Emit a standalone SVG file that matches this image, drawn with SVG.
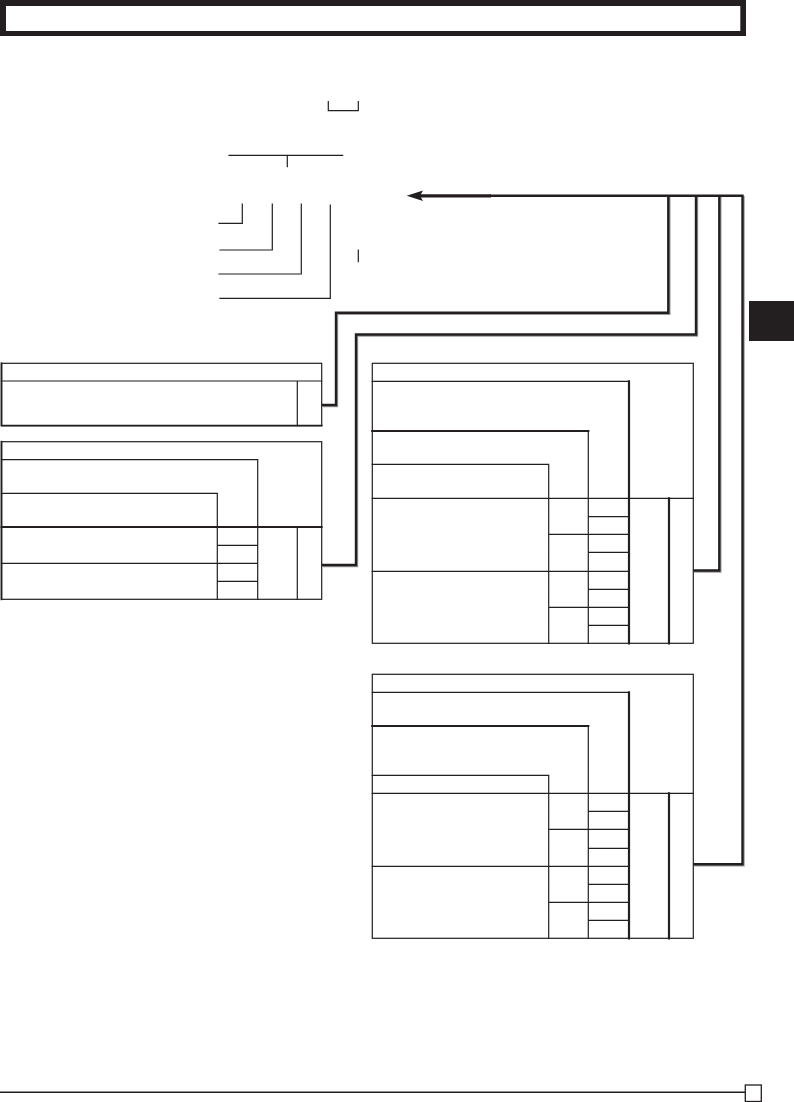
<svg xmlns="http://www.w3.org/2000/svg" width="794" height="1102" viewBox="0 0 794 1102">
<defs>
<style>
.t{fill:none;stroke:#231f20;stroke-width:1.2;stroke-linecap:square}
.k{fill:none;stroke:#231f20;stroke-width:2.2;stroke-linecap:square}
.bx{fill:#fff;stroke:#231f20;stroke-width:1.2}
.sh{fill:none;stroke:#9a9a9a;stroke-width:2.4;stroke-linejoin:miter}
.cn{fill:none;stroke:#231f20;stroke-width:2.4;stroke-linejoin:miter}
</style>
</defs>
<rect width="794" height="1102" fill="#fff"/>

<g id="title">
<rect x="0" y="0" width="746" height="36" fill="#231f20"/>
<rect x="6" y="6" width="734.3" height="25" fill="#fff"/>
</g>

<g id="tab">
<rect x="749" y="301" width="45" height="40" fill="#231f20"/>
</g>

<g id="tree">
<path class="t" d="M328.3,101.7 V110.7 H358.3 V101.7"/>
<path class="t" d="M229,155.3 H342.7 M287.3,155.3 V166.7"/>
<path class="t" d="M242.3,204 V223.3 H219"/>
<path class="t" d="M272.3,204 V250 H220"/>
<path class="t" d="M301.3,204 V274 H219"/>
<path class="t" d="M330.3,205 V298.3 H220"/>
<path class="t" d="M358.3,250 V261.7"/>
</g>

<g id="box-a">
<rect class="bx" x="1.5" y="363.3" width="320.2" height="62.3"/>
<path class="k" d="M1.5,363.3 V425.6 H321.7" style="stroke-width:1.8"/>
<path class="t" d="M1.5,381 H321.7 M297.3,381 V425.6"/>
</g>

<g id="box-b">
<rect class="bx" x="1.5" y="441.7" width="320.2" height="157.6"/>
<path class="k" d="M1.5,441.7 V599.3" style="stroke-width:1.8"/>
<path class="t" d="M1.5,459.7 H257.7 V599.3 M1.5,493.3 H217.3 V599.3 M297.3,527 V599.3 M217.3,545.3 H257.7 M1.5,563.3 H257.7 M217.3,581.3 H257.7"/>
<path class="k" d="M1.5,527 H321.7" style="stroke-width:1.8"/>
</g>

<g id="box-c">
<rect class="bx" x="372.3" y="363.3" width="321" height="280"/>
<path class="t" d="M372.3,381.3 H629 M588.3,431 V643.3 M372.3,464.3 H548.7 V643.3 M372.3,498.3 H693.3 M588.3,516.7 H629 M548.7,534.3 H629 M588.3,552.3 H629 M372.3,571.3 H629 M588.3,589.3 H629 M548.7,607.3 H629 M588.3,625.3 H629"/>
<path class="k" d="M629,381.3 V643.3 M372.3,431 H588.3 M669,498.3 V643.3"/>
</g>

<g id="box-d">
<rect class="bx" x="372.3" y="674.3" width="321" height="264"/>
<path class="t" d="M372.3,692.3 H629 M588.3,726 V938.3 M372.3,775.3 H548.7 V938.3 M372.3,793.3 H693.3 M588.3,811.3 H629 M548.7,829.3 H629 M588.3,848.3 H629 M372.3,866.3 H629 M588.3,884.3 H629 M548.7,902.3 H629 M588.3,920.3 H629"/>
<path class="k" d="M629,692.3 V938.3 M372.3,726 H588.3 M669,793.3 V938.3"/>
</g>

<g id="connectors">
<g transform="translate(1,1)">
<path class="sh" d="M321.7,405 H336 V312.7 H668.3 V195"/>
<path class="sh" d="M321.7,565 H356 V334.5 H696 V195"/>
<path class="sh" d="M693.3,570.5 H719.3 V195"/>
<path class="sh" d="M693.3,864.3 H742.5 V195"/>
</g>
<path class="cn" d="M321.7,405 H336 V312.7 H668.3 V195"/>
<path class="cn" d="M321.7,565 H356 V334.5 H696 V195"/>
<path class="cn" d="M693.3,570.5 H719.3 V195"/>
<path class="cn" d="M693.3,864.3 H742.5 V195.8 H490"/>
<path fill="none" stroke="#231f20" stroke-width="3.2" d="M415,195.8 H491"/>
<polygon points="406.7,195.8 423,190.6 420,195.8 423,201" fill="#231f20"/>
</g>

<g id="footer">
<path class="t" d="M0,1092.3 H745.3" style="stroke-width:1.4"/>
<rect x="745.3" y="1085" width="16" height="16.5" fill="#fff" stroke="#231f20" stroke-width="1.3"/>
</g>
</svg>
